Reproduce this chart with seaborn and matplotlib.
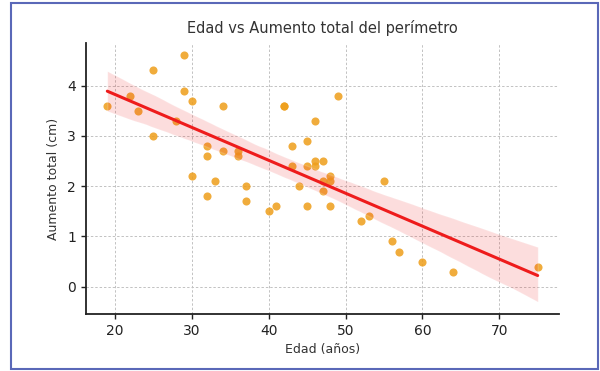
import matplotlib
matplotlib.use("Agg")
import matplotlib.pyplot as plt
import seaborn as sns
import pandas as pd
from matplotlib.patches import Rectangle

edad = [19, 22, 23, 25, 25, 28, 29, 29, 30, 30, 32, 32, 32, 33, 34, 34, 36, 36,
        37, 37, 40, 41, 42, 42, 43, 43, 44, 45, 45, 45, 46, 46, 46, 47, 47, 47,
        48, 48, 48, 49, 52, 53, 55, 56, 57, 60, 64, 75]
aumento = [3.6, 3.8, 3.5, 4.3, 3.0, 3.3, 4.6, 3.9, 3.7, 2.2, 2.8, 2.6, 1.8, 2.1,
           3.6, 2.7, 2.7, 2.6, 2.0, 1.7, 1.5, 1.6, 3.6, 3.6, 2.8, 2.4, 2.0, 2.9,
           2.4, 1.6, 3.3, 2.5, 2.4, 2.5, 2.1, 1.9, 2.2, 2.1, 1.6, 3.8, 1.3, 1.4,
           2.1, 0.9, 0.7, 0.5, 0.3, 0.4]

df = pd.DataFrame({"Edad": edad, "Aumento": aumento})

sns.set_style("ticks")
plt.rcParams["font.family"] = ["DejaVu Sans"]

fig = plt.figure(figsize=(6, 3.71), dpi=100)
ax = fig.add_axes([0.143, 0.154, 0.789, 0.730])

sns.regplot(data=df, x="Edad", y="Aumento", ax=ax, seed=3,
            scatter_kws={"color": "#EE9E1A", "alpha": 0.85, "s": 34, "linewidths": 0},
            line_kws={"color": "#EE1C1C", "linewidth": 2.2})

ax.grid(True, linestyle=(0, (2.5, 2)), color="#c2c2c2", linewidth=0.7)
ax.set_axisbelow(True)
for s in ["top", "right"]:
    ax.spines[s].set_visible(False)
for s in ["left", "bottom"]:
    ax.spines[s].set_color("#222222")
    ax.spines[s].set_linewidth(1.3)
ax.tick_params(axis="both", direction="out", length=3.5, width=1.0,
               labelsize=10, colors="#222222")
ax.set_xticks([20, 30, 40, 50, 60, 70])
ax.set_yticks([0, 1, 2, 3, 4])

ax.set_title("Edad vs Aumento total del perímetro", fontsize=10.5, color="#333333", pad=7)
ax.set_xlabel("Edad (años)", fontsize=9, color="#333333", labelpad=4)
ax.set_ylabel("Aumento total (cm)", fontsize=9, color="#333333", labelpad=5)

fig.patches.append(Rectangle((11 / 600, 2 / 371), 587 / 600, 366 / 371,
                             transform=fig.transFigure, fill=False,
                             edgecolor="#5a68b8", linewidth=1.5))

fig.savefig("out.png", dpi=100)
